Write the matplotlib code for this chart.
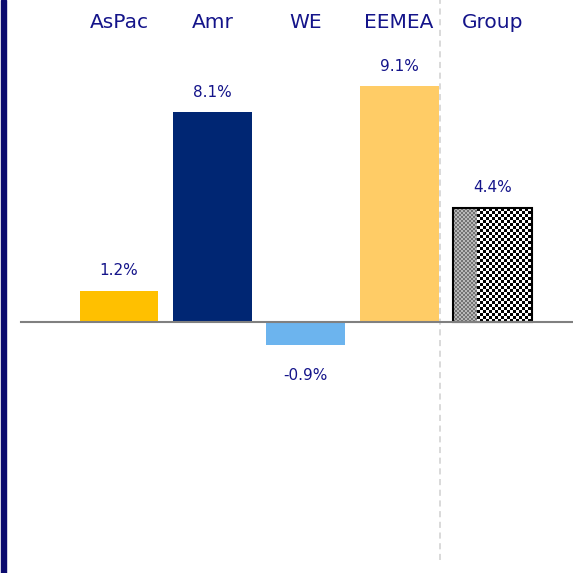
import numpy as np
import matplotlib
matplotlib.use("Agg")
import matplotlib.pyplot as plt
from matplotlib.patches import Rectangle

categories = ["AsPac", "Amr", "WE", "EEMEA", "Group"]
values = [1.2, 8.1, -0.9, 9.1, 4.4]
value_labels = ["1.2%", "8.1%", "-0.9%", "9.1%", "4.4%"]
colors = ["#FFC000", "#002673", "#6CB4EE", "#FFCC66", "white"]

plt.rcParams['font.family'] = ['DejaVu Sans Condensed', 'DejaVu Sans']
navy_text = "#14148A"

W = H = 573
dpi = 100
fig = plt.figure(figsize=(W / dpi, H / dpi), dpi=dpi)
ax = fig.add_axes([0, 0, 1, 1])
ax.set_axis_off()

x = np.arange(len(categories))
ax.set_xlim(-1.274, 4.861)
ax.set_ylim(-9.69, 12.43)

bars = ax.bar(x, values, width=0.845, color=colors, zorder=2)

# Group bar: checker pattern clipped to the bar, with black border
gb = bars[-1]
gb.set_edgecolor("black")
gb.set_linewidth(1.5)
gb.set_zorder(4)
gb.set_facecolor("none")
x0, w, h = gb.get_x(), gb.get_width(), gb.get_height()
p0 = ax.transData.transform((x0, 0))
p1 = ax.transData.transform((x0 + w, h))
npx_w = int(round(abs(p1[0] - p0[0])))
npx_h = int(round(abs(p1[1] - p0[1])))
rr, cc = np.mgrid[0:npx_h, 0:npx_w]
img = np.where(((rr // 3 + cc // 3) % 2) == 0, 0.0, 1.0)
left = cc < int(npx_w * 0.31)
img[left] = np.where(((rr[left] // 2 + cc[left] // 2) % 2) == 0, 0.45, 0.72)
im = ax.imshow(img, cmap="gray", vmin=0, vmax=1, extent=(x0, x0 + w, 0, h),
               interpolation="nearest", aspect="auto", zorder=3)
im.set_clip_path(gb)
ax.set_xlim(-1.274, 4.861)
ax.set_ylim(-9.69, 12.43)

# zero line
ax.axhline(0, xmin=21 / W, xmax=1, color="#808080", lw=1.5, zorder=5)

# dashed separator
ax.axvline(3.44, ymin=13 / H, ymax=1, color="#D0D0D0", lw=1.1,
           linestyle=(0, (4, 3)), zorder=1)

# value labels
for xi, v, lab in zip(x, values, value_labels):
    off = 14.5 if v >= 0 else -21.5
    ax.annotate(lab, (xi, v), xytext=(0, off), textcoords="offset points",
                ha="center", va="center", fontsize=11, color=navy_text)

# category headers
for xi, c in zip(x, categories):
    ax.text(xi, 1 - 23 / H, c, transform=ax.get_xaxis_transform(),
            ha="center", va="center", fontsize=14.5, color=navy_text)

# left navy vertical bar
fig.patches.append(Rectangle((0.5 / W, 0), 5.5 / W, 1, transform=fig.transFigure,
                             color="#0B0B6E", zorder=10))

fig.savefig("out.png", dpi=dpi)
